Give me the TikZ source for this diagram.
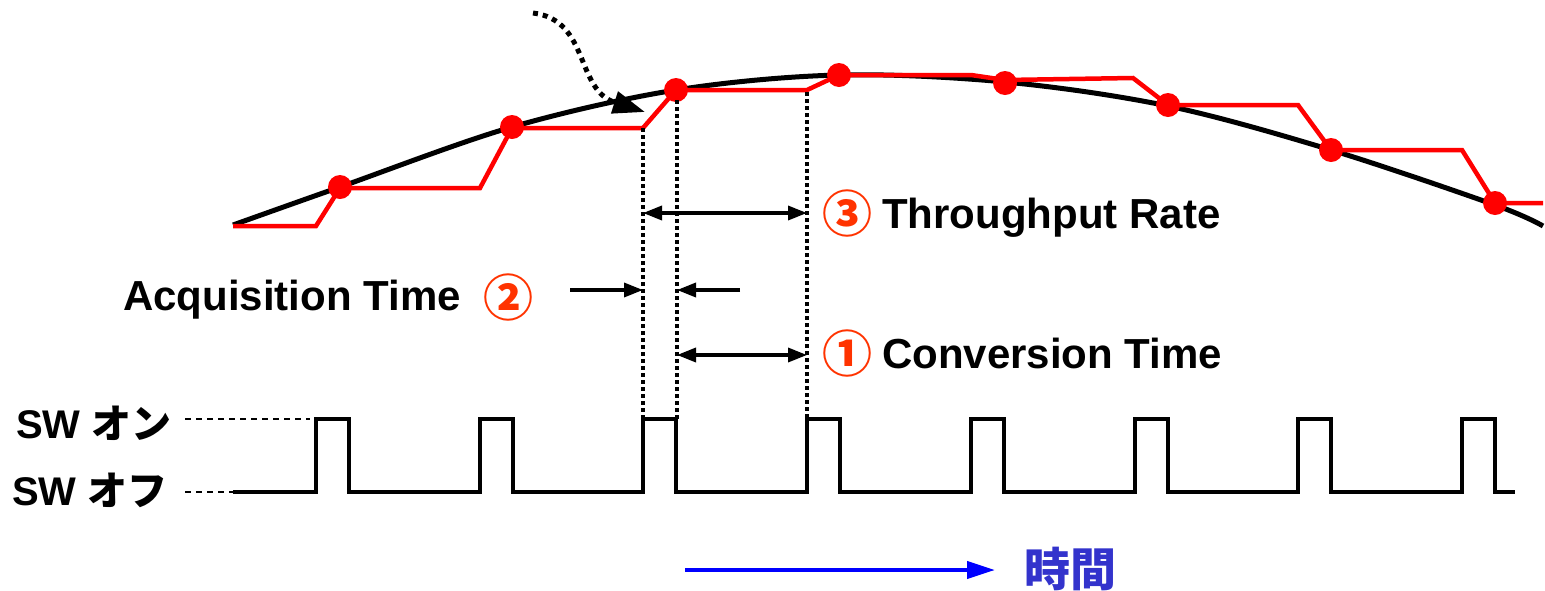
\documentclass[tikz,border=0pt]{standalone}
\usepackage{fontspec}
\setmainfont{Liberation Sans}
\newfontfamily\jpfont{Noto Sans CJK JP}
\usetikzlibrary{arrows.meta}
\definecolor{numred}{HTML}{FF3300}
\definecolor{timeblue}{HTML}{3333CC}

\begin{document}
\begin{tikzpicture}[x=1pt,y=-1pt,
  signal/.style={line width=5pt, line join=round},
  held/.style={red, line width=4.5pt},
  sample/.style={circle, fill=red, inner sep=0pt, minimum size=24pt},
  pulse/.style={line width=4pt},
  guide/.style={line width=3.5pt, dash pattern=on 3.5pt off 3.5pt},
  level/.style={line width=1.3pt, dash pattern=on 6pt off 5pt},
  span/.style={line width=3.5pt, {Triangle[length=19pt,width=14pt]}-{Triangle[length=19pt,width=14pt]}},
  oneway/.style={line width=3.5pt, -{Triangle[length=19pt,width=14pt]}},
  lbl/.style={font=\fontsize{42}{50}\selectfont\bfseries, inner sep=0pt, anchor=base west},
  swlbl/.style={font=\fontsize{40}{46}\selectfont\bfseries, inner sep=0pt, anchor=base west},
  num/.style={font=\fontsize{50}{56}\selectfont\jpfont\bfseries, text=numred, inner sep=0pt}
]
\useasboundingbox (0,0) rectangle (1545,590);

%input signal
\draw[signal] plot[smooth, tension=0.55] coordinates {(233,225) (340,187) (512,127) (676,90) (839,75) (1005,82) (1168,106) (1331,150) (1495,205) (1543,226)};

%track and hold output
\draw[held] (233,226) -- (316,226) -- (340,188) -- (480,188) -- (512,128) -- (643,128)
  -- (676,90) -- (807,90) -- (839,75) -- (971,75) -- (1005,80) -- (1133,78) -- (1168,105)
  -- (1298,105) -- (1331,150) -- (1462,150) -- (1495,203) -- (1543,203);

%samples
\foreach \x/\y [count=\i] in {340/187, 512/127, 676/90, 839/75, 1005/83, 1168/105, 1331/150, 1495/203}
  \node[sample] (s\i) at (\x,\y) {};

%switch
\coordinate (on) at (185,419);
\coordinate (off) at (185,492);
\coordinate (start) at (233,492);
\draw[pulse] (start) foreach \t in {316,480,643,807,971,1135,1298,1462}
  { -- (\t,492) -- (\t,419) -- (\t+33,419) -- (\t+33,492) } -- (1515,492);
\draw[level] (on) -- (310,419);
\draw[level] (off) -- (start);
\node[swlbl] (swon) at (16,438) {SW {\jpfont オン}};
\node[swlbl] (swoff) at (12,505) {SW {\jpfont オフ}};

%timing guides
\coordinate (tA) at (643,128);
\coordinate (tB) at (677,100);
\coordinate (tC) at (807,92);
\foreach \c in {tA,tB,tC}
  \draw[guide] (\c) -- (\c |- on);

%spans
\coordinate (rate) at (0,213);
\coordinate (acq) at (0,290);
\coordinate (conv) at (0,355);
\draw[span] (tA |- rate) -- (tC |- rate);
\draw[span] (tB |- conv) -- (tC |- conv);
\coordinate (acqL) at (570,290);
\coordinate (acqR) at (740,290);
\draw[oneway] (acqL) -- (tA |- acq);
\draw[oneway] (acqR) -- (tB |- acq);

%labels
\node[num] (n3) at (847,213) {③};
\node[lbl] (ratelbl) at (882,228) {Throughput Rate};
\node[num] (n1) at (847,353) {①};
\node[lbl] (convlbl) at (882,368) {Conversion Time};
\node[lbl] (acqlbl) at (123,310) {Acquisition Time};
\node[num] (n2) at (508,297) {②};

%sampling instant
\coordinate (hint) at (533,13);
\draw[line width=5pt, dash pattern=on 5pt off 5pt, -{Triangle[length=32pt,width=22pt]}]
  (hint) .. controls (590,20) and (575,90) .. (645,112);

%time axis
\coordinate (t0) at (685,570);
\coordinate (t1) at (995,570);
\draw[blue, line width=4pt, -{Triangle[length=28pt,width=17pt]}] (t0) -- (t1);
\node[font=\fontsize{46}{50}\selectfont\jpfont\bfseries, text=timeblue, inner sep=0pt, anchor=west] (time) at (1024,569) {時間};
\end{tikzpicture}
\end{document}
